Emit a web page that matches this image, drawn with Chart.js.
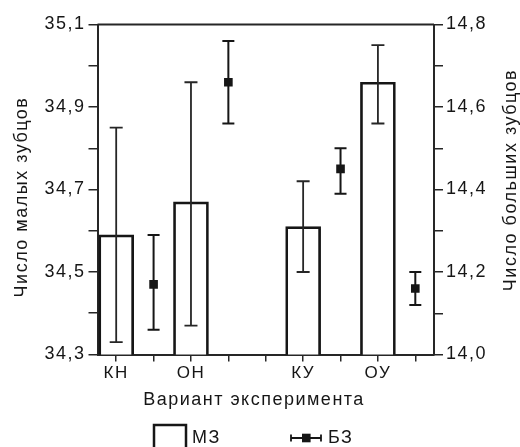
<!DOCTYPE html>
<html>
<head>
<meta charset="utf-8">
<script src="https://cdn.jsdelivr.net/npm/chart.js@4/dist/chart.umd.min.js"></script>
<style>
  html, body { margin: 0; padding: 0; background: #fff; }
  #wrap { width: 520px; height: 447px; }
</style>
</head>
<body>
<div id="wrap"><canvas id="c" width="520" height="447"></canvas></div>
<script>
// Experiment variants; empty slots are spacer positions on the category axis
const categories = ['КН', '', 'ОН', '', '', 'КУ', '', 'ОУ', ''];

// Small teeth (МЗ): means and error-bar bounds, left axis
const mzMean = [34.59, null, 34.67, null, null, 34.61, null, 34.96, null];
const mzLow  = [34.33, null, 34.37, null, null, 34.50, null, 34.86, null];
const mzHigh = [34.85, null, 34.96, null, null, 34.72, null, 35.05, null];

// Large teeth (БЗ): means and error-bar bounds, right axis
const bzMean = [null, 14.17, null, 14.66, null, null, 14.45, null, 14.16];
const bzLow  = [null, 14.06, null, 14.56, null, null, 14.39, null, 14.12];
const bzHigh = [null, 14.29, null, 14.76, null, null, 14.50, null, 14.20];

// Labelled ticks (every second tick carries a label)
const leftTickLabels  = ['34,3', '34,5', '34,7', '34,9', '35,1'];
const rightTickLabels = ['14,0', '14,2', '14,4', '14,6', '14,8'];

const xTitle = 'Вариант эксперимента';
const yLeftTitle = 'Число малых зубцов';
const yRightTitle = 'Число больших зубцов';

const INK = '#161616';
const LINE = '#262626';
const FONT = '"Liberation Sans", Arial, Helvetica, sans-serif';

// Vertical error bars with caps, drawn from each dataset's low/high arrays
function drawErrors(chart, dsIndex, lows, highs, width, cap, color) {
  const meta = chart.getDatasetMeta(dsIndex);
  const scale = chart.scales[meta.yAxisID];
  const ctx = chart.ctx;
  ctx.save();
  ctx.strokeStyle = color;
  ctx.lineWidth = width;
  meta.data.forEach((el, i) => {
    if (lows[i] == null || highs[i] == null) return;
    const x = el.x;
    const yl = scale.getPixelForValue(lows[i]);
    const yh = scale.getPixelForValue(highs[i]);
    ctx.beginPath();
    ctx.moveTo(x, yl); ctx.lineTo(x, yh);
    ctx.moveTo(x - cap, yl); ctx.lineTo(x + cap, yl);
    ctx.moveTo(x - cap, yh); ctx.lineTo(x + cap, yh);
    ctx.stroke();
  });
  ctx.restore();
}

const decor = {
  id: 'decor',
  beforeDraw(chart) {
    chart.ctx.letterSpacing = '1.5px';
  },
  beforeDatasetDraw(chart, args) {
    if (args.index === 1) drawErrors(chart, 1, bzLow, bzHigh, 2, 6, INK);
  },
  afterDatasetDraw(chart, args) {
    if (args.index === 0) drawErrors(chart, 0, mzLow, mzHigh, 1.8, 6.5, LINE);
  },
  afterDraw(chart) {
    const ctx = chart.ctx;
    const a = chart.chartArea;
    ctx.save();
    ctx.letterSpacing = '1.5px';
    // top frame line
    ctx.strokeStyle = LINE;
    ctx.lineWidth = 2;
    ctx.beginPath();
    ctx.moveTo(a.left, a.top); ctx.lineTo(a.right, a.top);
    ctx.stroke();

    ctx.fillStyle = INK;
    ctx.font = '18px ' + FONT;
    ctx.textBaseline = 'alphabetic';
    ctx.textAlign = 'center';
    // x axis title
    ctx.fillText(xTitle, 254, 405);
    // left y title
    ctx.save();
    ctx.translate(27, 197);
    ctx.rotate(-Math.PI / 2);
    ctx.fillText(yLeftTitle, 0, 0);
    ctx.restore();
    // right y title
    ctx.save();
    ctx.translate(516, 180);
    ctx.rotate(-Math.PI / 2);
    ctx.fillText(yRightTitle, 0, 0);
    ctx.restore();

    // legend
    const ds = chart.data.datasets;
    ctx.textAlign = 'left';
    ctx.strokeStyle = INK;
    ctx.lineWidth = 2.5;
    ctx.fillStyle = '#fff';
    ctx.fillRect(154, 425, 32, 26);
    ctx.strokeRect(154, 425, 32, 26);
    ctx.fillStyle = INK;
    ctx.fillText(ds[0].label, 192, 443);

    ctx.lineWidth = 1.8;
    ctx.beginPath();
    ctx.moveTo(291, 438); ctx.lineTo(321, 438);
    ctx.moveTo(291, 434.5); ctx.lineTo(291, 441.5);
    ctx.moveTo(321, 434.5); ctx.lineTo(321, 441.5);
    ctx.stroke();
    ctx.fillRect(302, 433.7, 8.6, 8.6);
    ctx.fillText(ds[1].label, 328, 443);
    ctx.restore();
  }
};

new Chart(document.getElementById('c'), {
  type: 'bar',
  data: {
    labels: categories,
    datasets: [
      {
        label: 'МЗ',
        data: mzMean,
        yAxisID: 'y',
        backgroundColor: '#ffffff',
        borderColor: INK,
        borderWidth: 2.7,
        borderSkipped: 'bottom',
        barThickness: 35,
        order: 1
      },
      {
        type: 'line',
        label: 'БЗ',
        data: bzMean,
        yAxisID: 'y2',
        showLine: false,
        pointStyle: 'rect',
        pointRadius: 6.1,
        pointBorderWidth: 0,
        pointBackgroundColor: INK,
        pointBorderColor: INK,
        order: 0
      }
    ]
  },
  options: {
    responsive: false,
    animation: false,
    devicePixelRatio: 1,
    layout: { padding: { top: 24.5, left: 0, right: 0, bottom: 32.5 } },
    plugins: {
      legend: { display: false },
      tooltip: { enabled: false }
    },
    scales: {
      x: {
        type: 'category',
        offset: true,
        grid: { display: true, drawOnChartArea: false, offset: false, tickLength: 7, color: LINE, lineWidth: 1.5 },
        border: { display: true, color: LINE, width: 2 },
        ticks: { autoSkip: false, maxRotation: 0, color: INK, padding: 2, font: { family: FONT, size: 17 } },
        afterFit(s) { s.height = 60; }
      },
      y: {
        position: 'left',
        min: 34.3,
        max: 35.1,
        grid: { drawOnChartArea: false, tickLength: 9, color: LINE, lineWidth: 1.5 },
        border: { display: true, color: LINE, width: 2 },
        ticks: {
          stepSize: 0.1,
          color: INK,
          padding: 3,
          font: { family: FONT, size: 18 },
          callback: (v, i) => (i % 2 === 0 ? leftTickLabels[i / 2] : '')
        },
        afterFit(s) { s.width = 97.5; }
      },
      y2: {
        position: 'right',
        min: 14.0,
        max: 14.8,
        grid: { drawOnChartArea: false, tickLength: 9, color: LINE, lineWidth: 1.5 },
        border: { display: true, color: LINE, width: 2 },
        ticks: {
          stepSize: 0.1,
          color: INK,
          padding: 3,
          font: { family: FONT, size: 18 },
          callback: (v, i) => (i % 2 === 0 ? rightTickLabels[i / 2] : '')
        },
        afterFit(s) { s.width = 86; }
      }
    }
  },
  plugins: [decor]
});
</script>
</body>
</html>
